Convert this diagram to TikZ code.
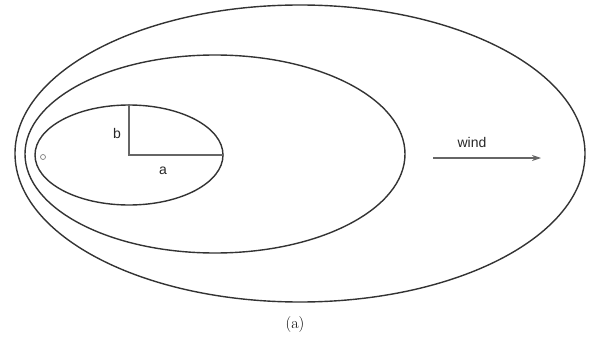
\documentclass[tikz,border=0pt]{standalone}
\usepackage{fontspec}
\newfontfamily\labelfont{Liberation Sans}
\usetikzlibrary{arrows.meta,shapes.geometric}
\begin{document}
\begin{tikzpicture}[x=1pt,y=-1pt,
  contour/.style={draw=black!80,line width=1.4pt,ellipse,inner sep=0pt},
  axis/.style={draw=black!60,line width=1.1pt},
  lbl/.style={font=\labelfont\fontsize{14}{16}\selectfont,text=black!85,inner sep=0pt}]
\useasboundingbox (0,0) rectangle (591,350);
\node[contour,minimum width=570pt,minimum height=297pt] (outer) at (300,153.5) {};
\node[contour,minimum width=380pt,minimum height=198pt] (middle) at (215,154) {};
\node[contour,minimum width=188pt,minimum height=100pt] (inner) at (129,155) {};
\coordinate (c) at (129,155);
\draw[axis] (inner.north) -- (c) -- (inner.east);
\node[lbl] (b) at (117,133) {b};
\node[lbl] (a) at (163,171) {a};
\node[draw=black!50,circle,inner sep=0pt,minimum size=5pt,line width=0.7pt] (src) at (43,157) {};
\coordinate (w1) at (433,158);
\coordinate (w2) at (541,158);
\draw[axis,-{Stealth[length=9pt,width=6pt]}] (w1) -- (w2);
\node[lbl] (wind) at (472,142) {wind};
\node[font=\fontsize{16}{18}\selectfont,inner sep=0pt] (cap) at (295,325) {(a)};
\end{tikzpicture}
\end{document}
